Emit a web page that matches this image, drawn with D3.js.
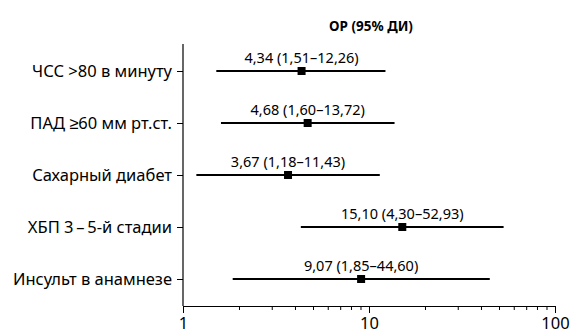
<!DOCTYPE html>
<html>
<head>
<meta charset="utf-8">
<script src="https://cdn.jsdelivr.net/npm/d3@7"></script>
<style>
  html, body { margin: 0; padding: 0; background: #fff; }
  svg { display: block; font-family: "Noto Sans", sans-serif; }
</style>
</head>
<body>
<svg id="chart" width="571" height="334"></svg>
<script>
const categories = ["ЧСС >80 в минуту", "ПАД ≥60 мм рт.ст.", "Сахарный диабет", "ХБП 3\u2009–\u20095-й стадии", "Инсульт в анамнезе"];
const estimates = [4.34, 4.68, 3.67, 15.10, 9.07];
const lowerCI = [1.51, 1.60, 1.18, 4.30, 1.85];
const upperCI = [12.26, 13.72, 11.43, 52.93, 44.60];
const labels = ["4,34 (1,51–12,26)", "4,68 (1,60–13,72)", "3,67 (1,18–11,43)", "15,10 (4,30–52,93)", "9,07 (1,85–44,60)"];
const majorTicks = [1, 10, 100];
const majorTickLabels = ["1", "10", "100"];
const minorTicks = [2, 3, 4, 5, 6, 7, 8, 9, 20, 30, 40, 50, 60, 70, 80, 90];
const title = "ОР (95% ДИ)";

const svg = d3.select("#chart");
const plotLeft = 183, plotRight = 555, plotTop = 44, plotBottom = 306;
const rowTop = 71, rowBottom = 279;

const x = d3.scaleLog().domain([1, 100]).range([plotLeft, plotRight]);
const y = d3.scalePoint().domain(categories).range([rowTop, rowBottom]);

// Title
svg.append("text")
  .attr("x", x(10) + 2)
  .attr("y", 31)
  .attr("text-anchor", "middle")
  .attr("font-size", 13.5)
  .attr("font-weight", "bold")
  .text(title);

// Y axis
const yAxis = svg.append("g")
  .attr("transform", `translate(${plotLeft},0)`)
  .call(d3.axisLeft(y).tickSize(6).tickPadding(5));
yAxis.select(".domain").remove();
yAxis.selectAll(".tick line").attr("stroke", "#000").attr("stroke-width", 1);
yAxis.selectAll(".tick text")
  .attr("font-size", 16.5)
  .attr("fill", "#000")
  .attr("font-family", "Noto Sans, sans-serif");
svg.append("line")
  .attr("x1", plotLeft).attr("x2", plotLeft)
  .attr("y1", plotTop).attr("y2", plotBottom)
  .attr("stroke", "#000").attr("stroke-width", 1.2);

// X axis minor ticks
const xMinor = svg.append("g")
  .attr("transform", `translate(0,${plotBottom})`)
  .call(d3.axisBottom(x).tickValues(minorTicks).tickSize(4).tickFormat(""));
xMinor.select(".domain").remove();
xMinor.selectAll(".tick line").attr("stroke", "#000");

// X axis major ticks
const xMajor = svg.append("g")
  .attr("transform", `translate(0,${plotBottom})`)
  .call(d3.axisBottom(x).tickValues(majorTicks).tickSize(7).tickSizeOuter(0).tickPadding(4)
    .tickFormat((d, i) => majorTickLabels[i]));
xMajor.select(".domain").attr("stroke", "#000").attr("stroke-width", 1.2);
xMajor.selectAll(".tick line").attr("stroke", "#000");
xMajor.selectAll(".tick text")
  .attr("font-size", 16.5)
  .attr("fill", "#000")
  .attr("font-family", "Noto Sans, sans-serif");

// CI lines
const rows = categories.map((c, i) => ({ c, est: estimates[i], lo: lowerCI[i], hi: upperCI[i], lab: labels[i] }));

svg.append("g").selectAll("line")
  .data(rows).join("line")
  .attr("x1", d => x(d.lo))
  .attr("x2", d => x(d.hi))
  .attr("y1", d => y(d.c))
  .attr("y2", d => y(d.c))
  .attr("stroke", "#000")
  .attr("stroke-width", 2);

const sq = 8;
svg.append("g").selectAll("rect")
  .data(rows).join("rect")
  .attr("x", d => x(d.est) - sq / 2)
  .attr("y", d => y(d.c) - sq / 2)
  .attr("width", sq)
  .attr("height", sq)
  .attr("fill", "#000");

svg.append("g").selectAll("text")
  .data(rows).join("text")
  .attr("x", d => x(d.est))
  .attr("y", d => y(d.c) - 8)
  .attr("text-anchor", "middle")
  .attr("font-size", 14.5)
  .attr("fill", "#000")
  .text(d => d.lab);
</script>
</body>
</html>
